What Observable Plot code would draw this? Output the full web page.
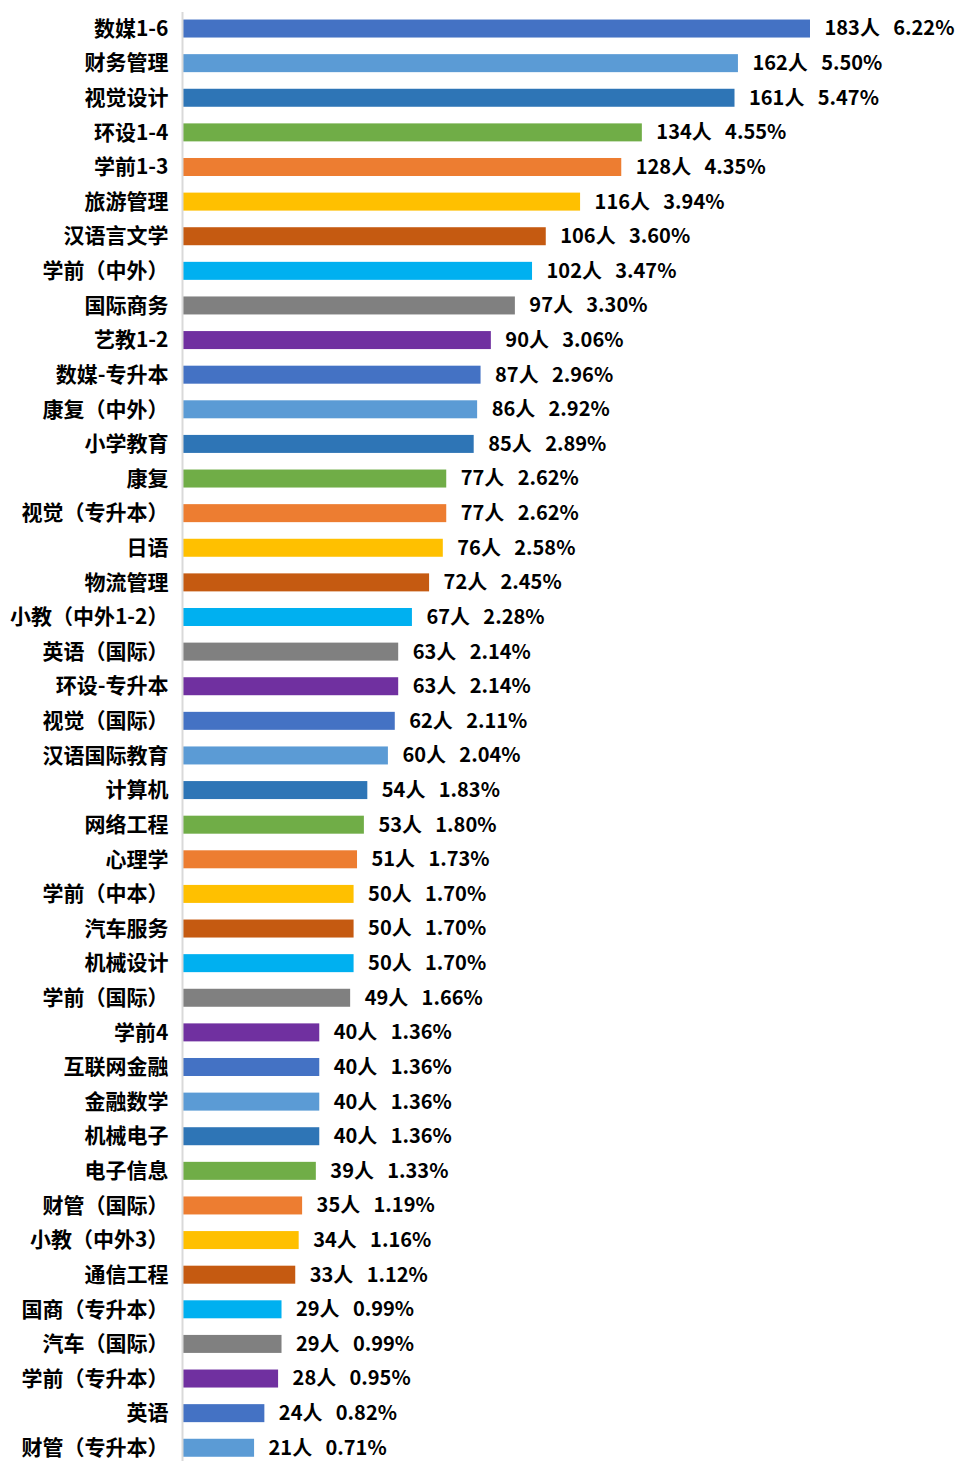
<!DOCTYPE html>
<html>
<head>
<meta charset="utf-8">
<script src="https://cdn.jsdelivr.net/npm/d3@7"></script>
<script src="https://cdn.jsdelivr.net/npm/@observablehq/plot@0.6"></script>
<style>
  html, body { margin: 0; padding: 0; background: #fff; }
  #chart svg { display: block; }
</style>
</head>
<body>
<div id="chart"></div>
<script>
const majors = ["数媒1-6","财务管理","视觉设计","环设1-4","学前1-3","旅游管理","汉语言文学","学前（中外）","国际商务","艺教1-2","数媒-专升本","康复（中外）","小学教育","康复","视觉（专升本）","日语","物流管理","小教（中外1-2）","英语（国际）","环设-专升本","视觉（国际）","汉语国际教育","计算机","网络工程","心理学","学前（中本）","汽车服务","机械设计","学前（国际）","学前4","互联网金融","金融数学","机械电子","电子信息","财管（国际）","小教（中外3）","通信工程","国商（专升本）","汽车（国际）","学前（专升本）","英语","财管（专升本）"];
const counts = [183,162,161,134,128,116,106,102,97,90,87,86,85,77,77,76,72,67,63,63,62,60,54,53,51,50,50,50,49,40,40,40,40,39,35,34,33,29,29,28,24,21];
const percents = ["6.22%","5.50%","5.47%","4.55%","4.35%","3.94%","3.60%","3.47%","3.30%","3.06%","2.96%","2.92%","2.89%","2.62%","2.62%","2.58%","2.45%","2.28%","2.14%","2.14%","2.11%","2.04%","1.83%","1.80%","1.73%","1.70%","1.70%","1.70%","1.66%","1.36%","1.36%","1.36%","1.36%","1.33%","1.19%","1.16%","1.12%","0.99%","0.99%","0.95%","0.82%","0.71%"];
const palette = ["#4472C4","#5B9BD5","#2E75B6","#70AD47","#ED7D31","#FFC000","#C55A11","#00B0F0","#808080","#7030A0"];

const data = majors.map((m, i) => ({
  major: m,
  count: counts[i],
  pct: percents[i],
  color: palette[i % palette.length],
  label: counts[i] + "人\u2002\u2006" + percents[i]
}));

const chart = Plot.plot({
  width: 957,
  height: 1461,
  marginLeft: 182,
  marginRight: 147,
  marginTop: 12,
  marginBottom: 0,
  style: { fontFamily: "'Noto Sans CJK SC', 'Noto Sans', sans-serif", color: "#000", background: "#fff", overflow: "visible" },
  x: { domain: [0, 183], axis: null },
  y: { domain: majors, paddingInner: 0.48, paddingOuter: 0.17, align: 0.64, round: false, label: null },
  marks: [
    Plot.barX(data, { y: "major", x: "count", fill: "color" }),
    Plot.ruleX([0], { stroke: "#d9d9d9", strokeWidth: 2 }),
    Plot.text(data, { y: "major", x: "count", text: "label", dx: 14, textAnchor: "start", fontSize: 20, fontWeight: "bold", fill: "#000" }),
    Plot.axisY({ tickSize: 0, tickPadding: 14, fontSize: 21, fontWeight: "bold", label: null, fill: "#000" })
  ]
});
document.getElementById("chart").appendChild(chart);
</script>
</body>
</html>
